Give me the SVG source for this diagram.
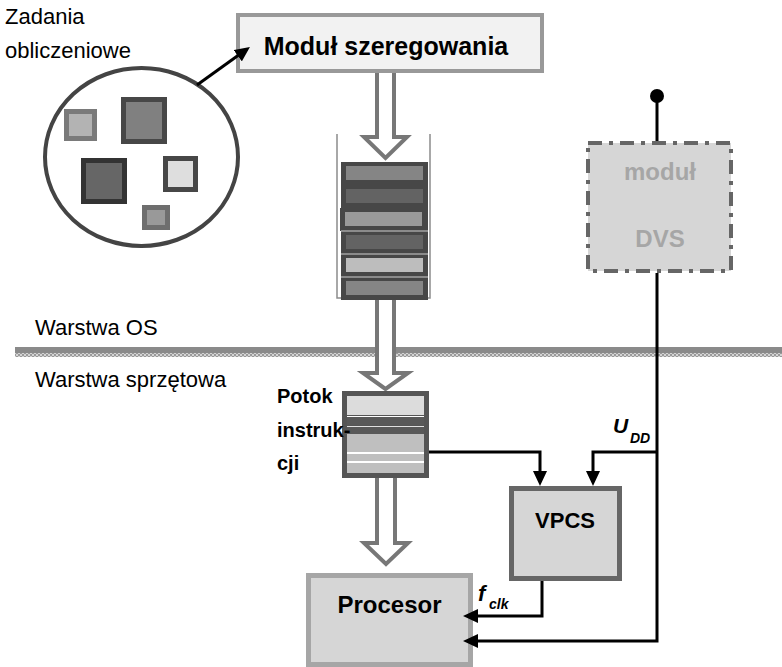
<svg xmlns="http://www.w3.org/2000/svg" width="782" height="667" viewBox="0 0 782 667">
<defs>
<style>
.t{font-family:"Liberation Sans",Arial,sans-serif;fill:#000}
.b{font-weight:bold}
.hollow{fill:#fff;stroke:#777;stroke-width:4;stroke-linejoin:miter}
.wire{fill:none;stroke:#000;stroke-width:3}
.qo{fill:#474747}
</style>
<marker id="ah" markerUnits="userSpaceOnUse" markerWidth="15" markerHeight="14" viewBox="0 0 15 14" refX="11" refY="7" orient="auto">
<path d="M0,0 L15,7 L0,14 z" fill="#000"/>
</marker>
<pattern id="dots" width="4" height="4" patternUnits="userSpaceOnUse">
<rect width="4" height="4" fill="#d4d4d4"/>
<rect width="2" height="2" fill="#9a9a9a"/>
<rect x="2" y="2" width="2" height="2" fill="#9a9a9a"/>
</pattern>
</defs>
<rect width="782" height="667" fill="#fff"/>

<g id="layers">
<text class="t" x="35" y="335" font-size="22">Warstwa OS</text>
<rect x="15" y="347" width="767" height="6" fill="#8a8a8a"/>
<rect x="15" y="353" width="767" height="4" fill="url(#dots)"/>
<text class="t" x="35" y="387" font-size="22">Warstwa sprzętowa</text>
</g>

<g id="tasks">
<text class="t" x="5" y="24" font-size="22">Zadania</text>
<text class="t" x="5" y="58" font-size="22">obliczeniowe</text>
<ellipse cx="141.5" cy="157" rx="96.5" ry="89" fill="#fff" stroke="#444" stroke-width="4"/>
<rect x="66.5" y="111.5" width="28" height="27" fill="#b3b3b3" stroke="#7a7a7a" stroke-width="5"/>
<rect x="123.5" y="99.5" width="41" height="42" fill="#808080" stroke="#474747" stroke-width="5"/>
<rect x="83.5" y="160.5" width="41" height="41" fill="#666" stroke="#333" stroke-width="5"/>
<rect x="165.5" y="158.5" width="30" height="31" fill="#dedede" stroke="#474747" stroke-width="5"/>
<rect x="144.5" y="207.5" width="23" height="20" fill="#999" stroke="#6e6e6e" stroke-width="5"/>
</g>

<g id="flow-arrows">
<path class="hollow" d="M377,73 V137 H364 L385.5,158 L407,137 H394 V73"/>
<path class="hollow" d="M377,300 V373 H363 L385.5,389 L408,373 H394 V300"/>
<path class="hollow" d="M377,478 V543 H364 L386,564 L408,543 H395 V478"/>
</g>

<g id="scheduler">
<rect x="238" y="15" width="304" height="56" fill="#f2f2f2" stroke="#999" stroke-width="4"/>
<text class="t b" x="386" y="55" font-size="25" text-anchor="middle">Moduł szeregowania</text>
</g>

<g id="queue">
<path d="M337,134 V298 H430 V134" fill="none" stroke="#8c8c8c" stroke-width="1.5"/>
<rect class="qo" x="341" y="162" width="87" height="23"/><rect x="346" y="166" width="77" height="14" fill="#858585"/>
<rect class="qo" x="341" y="185" width="87" height="23"/><rect x="346" y="189" width="77" height="14" fill="#636363"/>
<rect class="qo" x="340" y="208" width="88" height="23"/><rect x="345" y="212" width="77" height="14" fill="#9a9a9a"/>
<rect class="qo" x="341" y="231" width="87" height="23"/><rect x="346" y="235" width="77" height="14" fill="#636363"/>
<rect class="qo" x="341" y="254" width="87" height="23"/><rect x="346" y="258" width="77" height="14" fill="#bdbdbd"/>
<rect class="qo" x="341" y="277" width="87" height="23"/><rect x="346" y="281" width="77" height="14" fill="#858585"/>
<path d="M341,231 H428 M341,254 H428 M341,277 H428" stroke="#d0d0d0" stroke-width="1"/>
</g>

<g id="dvs">
<line x1="657" y1="96" x2="657" y2="141" stroke="#000" stroke-width="3"/>
<circle cx="657" cy="96" r="7" fill="#000"/>
<rect x="588" y="143" width="143" height="128" fill="#d6d6d6" stroke="#666" stroke-width="4" stroke-dasharray="14 7 4 7"/>
<text class="t b" x="660" y="180" font-size="24" text-anchor="middle" fill="#a6a6a6" style="fill:#a6a6a6">moduł</text>
<text class="t b" x="660" y="247" font-size="24" text-anchor="middle" style="fill:#a6a6a6">DVS</text>
</g>

<g id="instr">
<rect x="344.5" y="393.5" width="82" height="82" fill="#555" stroke="#555" stroke-width="5"/>
<rect x="347" y="396" width="77" height="19" fill="#dcdcdc"/>
<rect x="347" y="416" width="77" height="1" fill="#fff"/>
<rect x="347" y="417" width="77" height="8" fill="#595959"/>
<rect x="347" y="426" width="77" height="1" fill="#e0e0e0"/>
<rect x="347" y="427" width="77" height="7" fill="#595959"/>
<rect x="347" y="434" width="77" height="18" fill="#bfbfbf"/>
<rect x="347" y="452" width="77" height="2" fill="#fff"/>
<rect x="347" y="454" width="77" height="7" fill="#bfbfbf"/>
<rect x="347" y="461" width="77" height="2" fill="#fff"/>
<rect x="347" y="463" width="77" height="10" fill="#bfbfbf"/>
<text class="t b" x="277" y="403" font-size="20">Potok</text>
<text class="t b" x="277" y="437" font-size="20">instruk-</text>
<text class="t b" x="277" y="470" font-size="20">cji</text>
</g>

<g id="vpcs">
<rect x="511.5" y="488.5" width="108" height="90" fill="#d6d6d6" stroke="#666" stroke-width="5"/>
<text class="t b" x="565" y="528" font-size="22" text-anchor="middle">VPCS</text>
</g>

<g id="procesor">
<rect x="308.5" y="575.5" width="162" height="89" fill="#d6d6d6" stroke="#a6a6a6" stroke-width="5"/>
<text class="t b" x="389.5" y="613" font-size="24" text-anchor="middle">Procesor</text>
</g>

<g id="connectors">
<line class="wire" x1="197" y1="85" x2="246.7" y2="49.3" marker-end="url(#ah)"/>
<path class="wire" d="M429,452 H540 V482" marker-end="url(#ah)"/>
<path class="wire" d="M657,452 H593 V482" marker-end="url(#ah)"/>
<path class="wire" d="M657,273 V641 H467" marker-end="url(#ah)"/>
<path class="wire" d="M542,581 V616 H467" marker-end="url(#ah)"/>
</g>

<g id="labels">
<text class="t b" x="613" y="433" font-size="21" font-style="italic">U</text>
<text class="t b" x="630" y="443" font-size="14" font-style="italic">DD</text>
<text class="t b" x="478" y="601" font-size="22" font-style="italic">f</text>
<text class="t b" x="489" y="609" font-size="14" font-style="italic">clk</text>
</g>
</svg>
